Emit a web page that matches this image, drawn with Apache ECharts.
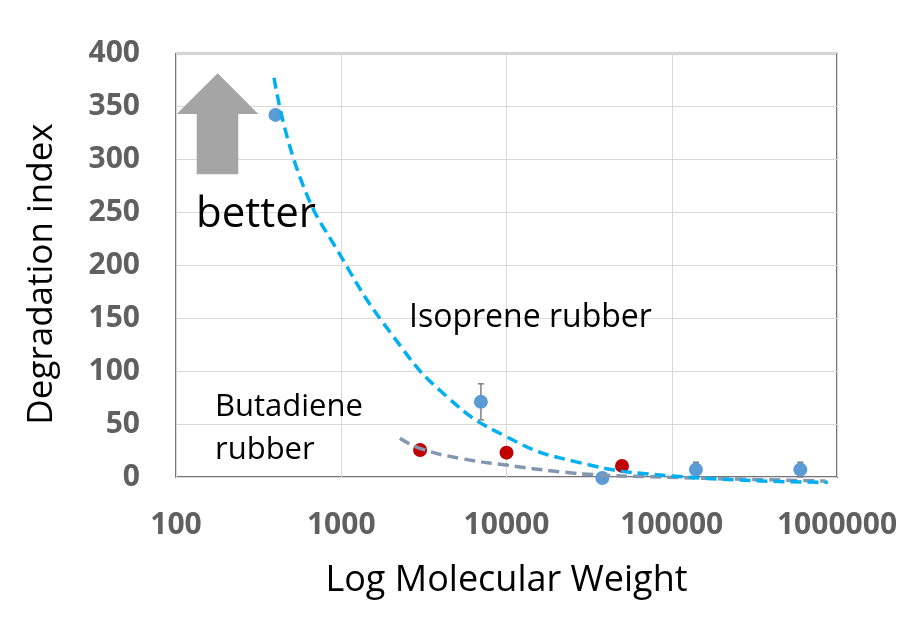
<!DOCTYPE html>
<html>
<head>
<meta charset="utf-8">
<title>Degradation index vs molecular weight</title>
<script src="https://cdn.jsdelivr.net/npm/echarts@6/dist/echarts.min.js"></script>
<style>
  html, body { margin: 0; padding: 0; background: #ffffff; }
  #chart { width: 902px; height: 625px; }
</style>
</head>
<body>
<div id="chart"></div>
<script>
// Measured points: isoprene rubber (with error bars) and butadiene rubber
const isoMW = [400, 7000, 38000, 140000, 600000];
const isoIndex = [342, 71, -1, 7, 7];
const isoErr = [0, 17, 0, 7, 7];

const butMW = [3000, 10000, 50000];
const butIndex = [25.5, 23, 10.5];

// Fitted trend curves, sampled along the dashed lines
const isoTrendMW = [392, 563, 982, 2060, 4350, 10000, 25300, 100000, 880000];
const isoTrendIndex = [377, 283, 210, 133, 76, 38, 15, 1, -5];

const butTrendMW = [2266, 2990, 5220, 10000, 21000, 36700, 70300, 284000, 850000];
const butTrendIndex = [36.6, 27.1, 17.7, 11.3, 5, 1.9, 0.3, -2.2, -3.8];

// Axis ticks
const yTicks = [0, 50, 100, 150, 200, 250, 300, 350, 400];
const xTicks = [100, 1000, 10000, 100000, 1000000];

const zip = (xs, ys) => xs.map((x, i) => [x, ys[i]]);

const chart = echarts.init(document.getElementById('chart'), null, { renderer: 'canvas' });

const tickFont = { fontFamily: 'Open Sans', fontWeight: 'bold', fontSize: 30, color: '#606060' };
const titleFont = { fontFamily: 'Open Sans', fontSize: 36, color: '#000000' };

chart.setOption({
  animation: false,
  backgroundColor: '#ffffff',
  grid: {
    left: 176, right: 65, top: 53.5, bottom: 148,
    show: true, borderColor: '#4a4a4a', borderWidth: 1.5, backgroundColor: 'transparent'
  },
  xAxis: {
    type: 'log',
    logBase: 10,
    min: xTicks[0],
    max: xTicks[xTicks.length - 1],
    name: 'Log Molecular Weight',
    nameLocation: 'middle',
    nameGap: 86,
    nameTextStyle: titleFont,
    axisLine: { show: false },
    axisTick: { show: false },
    axisLabel: Object.assign({ margin: 33, formatter: v => String(Math.round(v)) }, tickFont),
    splitLine: { show: true, lineStyle: { color: '#d9d9d9', width: 1 } }
  },
  yAxis: {
    type: 'value',
    min: yTicks[0],
    max: yTicks[yTicks.length - 1],
    interval: 50,
    axisLine: { show: false },
    axisTick: { show: false },
    axisLabel: Object.assign({ margin: 36 }, tickFont),
    splitLine: { show: true, lineStyle: { color: '#d9d9d9', width: 1 } }
  },
  graphic: [
    {
      type: 'text', x: 42, y: 274, rotation: Math.PI / 2,
      style: { text: 'Degradation index', font: '35px "Open Sans"', fill: '#000', align: 'center', verticalAlign: 'middle' }
    },
    {
      type: 'polygon',
      shape: { points: [[217.7, 73.3], [258.3, 114], [238.3, 114], [238.3, 174.3], [196.7, 174.3], [196.7, 114], [176.7, 114]] },
      style: { fill: '#a5a5a5' },
      z: 5
    },
    { type: 'text', x: 196, y: 215, style: { text: 'better', font: '42px "Open Sans"', fill: '#000', verticalAlign: 'middle' }, z: 5 },
    { type: 'text', x: 409, y: 318, style: { text: 'Isoprene rubber', font: '32px "Open Sans"', fill: '#000', verticalAlign: 'middle' }, z: 5 },
    { type: 'text', x: 215, y: 407, style: { text: 'Butadiene', font: '31px "Open Sans"', fill: '#000', verticalAlign: 'middle' }, z: 5 },
    { type: 'text', x: 215, y: 450, style: { text: 'rubber', font: '31px "Open Sans"', fill: '#000', verticalAlign: 'middle' }, z: 5 }
  ],
  series: [
    {
      name: 'Isoprene error',
      type: 'custom',
      clip: false,
      z: 2,
      data: isoMW.map((x, i) => [x, isoIndex[i], isoErr[i]]),
      renderItem: (params, api) => {
        const err = api.value(2);
        if (!err) return null;
        const x = api.value(0), y = api.value(1);
        const top = api.coord([x, y + err]);
        const bot = api.coord([x, y - err]);
        const cap = 3;
        const style = { stroke: '#808080', lineWidth: 1.5 };
        return {
          type: 'group',
          children: [
            { type: 'line', shape: { x1: top[0], y1: top[1], x2: bot[0], y2: bot[1] }, style },
            { type: 'line', shape: { x1: top[0] - cap, y1: top[1], x2: top[0] + cap, y2: top[1] }, style },
            { type: 'line', shape: { x1: bot[0] - cap, y1: bot[1], x2: bot[0] + cap, y2: bot[1] }, style }
          ]
        };
      }
    },
    {
      name: 'Isoprene rubber',
      type: 'scatter',
      clip: false,
      z: 3,
      symbolSize: 14,
      itemStyle: { color: '#5b9bd5', opacity: 1 },
      data: zip(isoMW, isoIndex)
    },
    {
      name: 'Butadiene rubber',
      type: 'scatter',
      clip: false,
      z: 3,
      symbolSize: 14,
      itemStyle: { color: '#c00000', opacity: 1 },
      data: zip(butMW, butIndex)
    },
    {
      name: 'Butadiene trend',
      type: 'line',
      clip: false,
      z: 4,
      smooth: 0.5,
      showSymbol: false,
      symbol: 'none',
      lineStyle: { color: '#8497b0', width: 3.5, type: [11, 6] },
      data: zip(butTrendMW, butTrendIndex)
    },
    {
      name: 'Isoprene trend',
      type: 'line',
      clip: false,
      z: 4,
      smooth: 0.5,
      showSymbol: false,
      symbol: 'none',
      lineStyle: { color: '#00b0f0', width: 3.5, type: [11, 6] },
      data: zip(isoTrendMW, isoTrendIndex)
    }
  ]
});
</script>
</body>
</html>
